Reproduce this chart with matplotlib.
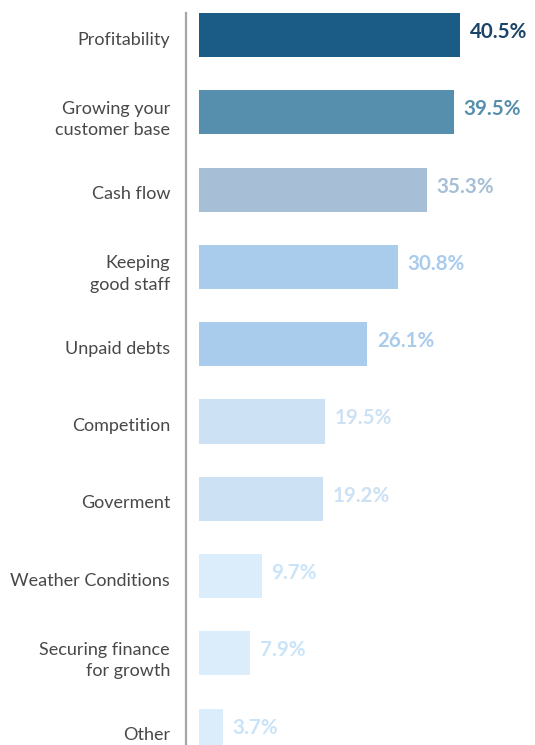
import matplotlib.pyplot as plt
from matplotlib.lines import Line2D
from matplotlib.transforms import ScaledTranslation

categories = [
    "Profitability",
    "Growing your\ncustomer base",
    "Cash flow",
    "Keeping\ngood staff",
    "Unpaid debts",
    "Competition",
    "Goverment",
    "Weather Conditions",
    "Securing finance\nfor growth",
    "Other",
]
values = [40.5, 39.5, 35.3, 30.8, 26.1, 19.5, 19.2, 9.7, 7.9, 3.7]
bar_colors = ["#1a5c85", "#568fae", "#a7bfd6", "#a9cbec", "#a9cbec",
              "#cde1f4", "#cde1f4", "#dbedfb", "#dbedfb", "#dbedfb"]
label_colors = ["#1c4467", "#568fae", "#a7bfd6", "#a9cbec", "#a9cbec",
                "#cde1f4", "#cde1f4", "#c9e4f8", "#c9e4f8", "#c9e4f8"]

plt.rcParams["font.family"] = ["Lato", "DejaVu Sans"]

W, H = 535, 745
fig = plt.figure(figsize=(W / 100, H / 100), dpi=100)

# pixel layout
x0 = 199          # where bars start
px_per_pct = 6.45
row = 77.3
first = 35        # centre of first bar

ax = fig.add_axes([x0 / W, 0, 1 - x0 / W, 1])
pos = list(range(len(values)))
ax.barh(pos, values, height=44 / row, color=bar_colors)

for p, v, c in zip(pos, values, label_colors):
    ax.text(v + 10 / px_per_pct, p - 0.04, f"{v}%", color=c, fontsize=14.8,
            fontweight="bold", va="center", ha="left")

ax.set_xlim(0, (W - x0) / px_per_pct)
ax.set_ylim((H - first) / row, -first / row)

ax.set_yticks(pos)
ax.set_yticklabels(categories, fontsize=13, color="#484848", linespacing=1.4)
ax.tick_params(axis="y", length=0, pad=(x0 - 170) * 0.72)
ax.tick_params(axis="x", bottom=False, labelbottom=False)
shift = ScaledTranslation(0, -3 / 100, fig.dpi_scale_trans)
for lbl in ax.get_yticklabels():
    lbl.set_transform(lbl.get_transform() + shift)
for s in ax.spines.values():
    s.set_visible(False)

# vertical divider between labels and bars
fig.add_artist(Line2D([186 / W, 186 / W], [0, 1 - 13 / H], color="#a6a6a6", lw=1.6))

fig.savefig("out.png", dpi=100)
